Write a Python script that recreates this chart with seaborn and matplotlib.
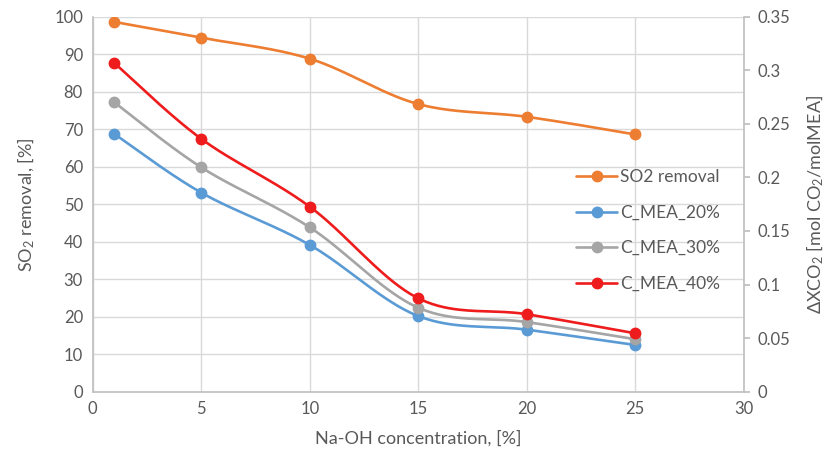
import numpy as np
import matplotlib
matplotlib.use("Agg")
import matplotlib.pyplot as plt
import seaborn as sns
import pandas as pd
from matplotlib.lines import Line2D

naoh = [1, 5, 10, 15, 20, 25]
so2_removal = [98.6, 94.4, 88.8, 76.7, 73.3, 68.6]
c_mea_20 = [0.2405, 0.1858, 0.137, 0.0706, 0.0579, 0.0436]
c_mea_30 = [0.270, 0.2094, 0.1534, 0.0784, 0.065, 0.049]
c_mea_40 = [0.3067, 0.236, 0.1727, 0.0872, 0.0723, 0.0545]
x_ticks = [0, 5, 10, 15, 20, 25, 30]
left_ticks = list(range(0, 101, 10))
right_ticks = [0, 0.05, 0.1, 0.15, 0.2, 0.25, 0.3, 0.35]
right_labels = ["0", "0.05", "0.1", "0.15", "0.2", "0.25", "0.3", "0.35"]

c_orange = "#ED7D31"
c_blue = "#5B9BD5"
c_gray = "#A5A5A5"
c_red = "#EE1C1C"
txt = "#595959"
grid_c = "#D9D9D9"

sns.set_theme(style="white")
plt.rcParams["font.family"] = ["Lato", "DejaVu Sans"]
plt.rcParams["mathtext.fontset"] = "custom"
plt.rcParams["mathtext.rm"] = "Lato"
plt.rcParams["mathtext.it"] = "Lato"


def smooth(xs, ys, n=40):
    xs = np.asarray(xs, float)
    ys = np.asarray(ys, float)
    P = np.column_stack([xs, ys])
    Pe = np.vstack([P[0], P, P[-1]])
    out = []
    t = np.linspace(0, 1, n)[:, None]
    for i in range(len(P) - 1):
        p0 = Pe[i + 1]
        p3 = Pe[i + 2]
        c1 = p0 + (Pe[i + 2] - Pe[i]) / 6.0
        c2 = p3 - (Pe[i + 3] - Pe[i + 1]) / 6.0
        seg = ((1 - t) ** 3) * p0 + 3 * ((1 - t) ** 2) * t * c1 + 3 * (1 - t) * t ** 2 * c2 + t ** 3 * p3
        out.append(seg if i == 0 else seg[1:])
    s = np.vstack(out)
    return pd.DataFrame({"x": s[:, 0], "y": s[:, 1]})


fig = plt.figure(figsize=(8.3, 4.61), dpi=100)
ax = fig.add_axes([0.1117, 0.1503, 0.7844, 0.8135])
ax2 = ax.twinx()

lw = 1.9
ms = 7.5

s = smooth(naoh, so2_removal)
sns.lineplot(data=s, x="x", y="y", ax=ax, color=c_orange, lw=lw, sort=False, estimator=None)
ax.plot(naoh, so2_removal, "o", color=c_orange, ms=ms, zorder=5)

for vals, col in [(c_mea_20, c_blue), (c_mea_30, c_gray), (c_mea_40, c_red)]:
    s = smooth(naoh, vals)
    sns.lineplot(data=s, x="x", y="y", ax=ax2, color=col, lw=lw, sort=False, estimator=None)
    ax2.plot(naoh, vals, "o", color=col, ms=ms, zorder=5)

ax.set_xlim(0, 30)
ax.set_ylim(0, 100)
ax2.set_ylim(0, 0.35)
ax.set_xticks(x_ticks)
ax.set_yticks(left_ticks)
ax2.set_yticks(right_ticks)
ax2.set_yticklabels(right_labels)

ax.grid(True, color=grid_c, lw=1.0)
ax.set_axisbelow(True)
ax2.grid(False)

for a in (ax, ax2):
    for sp in a.spines.values():
        sp.set_visible(False)
ax.spines["left"].set_visible(True)
ax.spines["bottom"].set_visible(True)
ax2.spines["right"].set_visible(True)
for sp in [ax.spines["left"], ax.spines["bottom"], ax2.spines["right"]]:
    sp.set_color("#BFBFBF")
    sp.set_linewidth(1.2)

ax.tick_params(axis="both", length=0, labelsize=12, labelcolor=txt, pad=7)
ax2.tick_params(axis="y", length=4, color="#BFBFBF", labelsize=12, labelcolor=txt, pad=6)

ax.set_xlabel("Na-OH concentration, [%]", fontsize=13, color=txt, labelpad=9)
ax.set_ylabel("SO$_2$ removal, [%]", fontsize=13, color=txt, labelpad=12)
ax2.set_ylabel("ΔXCO$_2$ [mol CO$_2$/molMEA]", fontsize=13, color=txt, labelpad=10)

handles = [
    Line2D([], [], color=c_orange, lw=lw, marker="o", ms=ms),
    Line2D([], [], color=c_blue, lw=lw, marker="o", ms=ms),
    Line2D([], [], color=c_gray, lw=lw, marker="o", ms=ms),
    Line2D([], [], color=c_red, lw=lw, marker="o", ms=ms),
]
labels = ["SO2 removal", "C_MEA_20%", "C_MEA_30%", "C_MEA_40%"]
leg = ax2.legend(handles, labels, loc="center left", bbox_to_anchor=(0.718, 0.43),
                 frameon=False, fontsize=12.5, handlelength=2.4, handletextpad=0.15,
                 labelspacing=1.12, labelcolor=txt)

fig.savefig("out.png", dpi=100)
